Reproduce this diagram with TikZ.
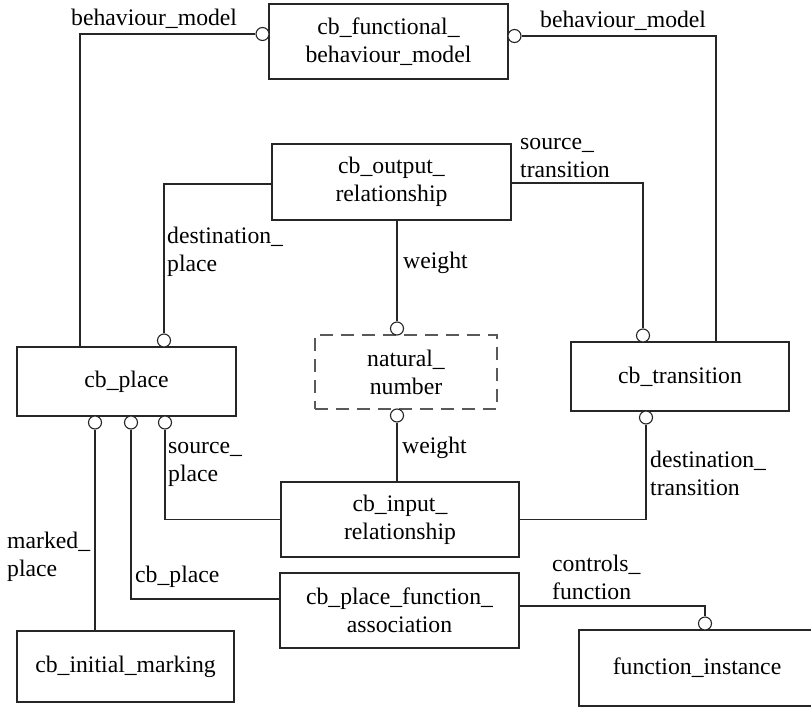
\documentclass[tikz,border=0pt]{standalone}
\usepackage{fontspec}
\setmainfont{Liberation Serif}
\begin{document}
\begin{tikzpicture}[x=1pt,y=-1pt,
  every node/.style={font=\fontsize{23.7}{28}\selectfont},
  entity/.style={draw=black!85, line width=1.1pt, fill=white, inner sep=0pt, align=center},
  typebox/.style={entity, dash pattern=on 13pt off 8pt, draw=black!65},
  link/.style={draw=black!85, line width=1.1pt},
  ring/.style={circle, draw=black!85, line width=1.1pt, fill=white, minimum size=13pt, inner sep=0pt},
  role/.style={anchor=base west, align=left, inner sep=0pt}
]
\useasboundingbox (0,0) rectangle (811,707);
\clip (0,0) rectangle (811,707);

% entities
\node[entity, minimum width=239pt, minimum height=75pt] (fbm) at (388.5,41.5) {cb\_functional\_\\behaviour\_model};
\node[entity, minimum width=239pt, minimum height=76pt] (outrel) at (391.5,182) {cb\_output\_\\relationship};
\node[entity, minimum width=219pt, minimum height=69pt] (place) at (126.5,381.5) {cb\_place};
\node[typebox, minimum width=182pt, minimum height=74pt] (natnum) at (406,372) {natural\_\\number};
\node[entity, minimum width=218pt, minimum height=69pt] (trans) at (680,376.5) {cb\_transition};
\node[entity, minimum width=238pt, minimum height=75pt] (inrel) at (400,519.5) {cb\_input\_\\relationship};
\node[entity, minimum width=239pt, minimum height=75pt] (pfa) at (399.5,610.5) {cb\_place\_function\_\\association};
\node[entity, minimum width=217pt, minimum height=71pt] (initmark) at (125.5,666.5) {cb\_initial\_marking};
\node[entity, minimum width=236pt, minimum height=76pt] (funcinst) at (697,668) {function\_instance};

% reference end markers
\node[ring] (r1) at (262.5,34) {};
\node[ring] (r2) at (514.5,36) {};
\node[ring] (r3) at (164,340.5) {};
\node[ring] (r4) at (643,335.5) {};
\node[ring] (r5) at (397,328.5) {};
\node[ring] (r6) at (397,415.5) {};
\node[ring] (r7) at (95,422.5) {};
\node[ring] (r8) at (131,422.5) {};
\node[ring] (r9) at (165,422.5) {};
\node[ring] (r10) at (646,417.5) {};
\node[ring] (r11) at (705,623.5) {};

% relationships
\draw[link] (r1.west) -| ([xshift=-46.5pt]place.north);
\draw[link] (r2.east) -| ([xshift=36pt]trans.north);
\draw[link] (r3.north) |- ([yshift=-2pt]outrel.west);
\draw[link] (r4.north) |- ([yshift=-1pt]outrel.east);
\draw[link] (r5.north) -- (r5.north |- outrel.south);
\draw[link] (r6.south) -- (r6.south |- inrel.north);
\draw[link] (r7.south) -- (r7.south |- initmark.north);
\draw[link] (r8.south) |- ([yshift=11.5pt]pfa.west);
\draw[link] (r9.south) |- (inrel.west);
\draw[link] (r10.south) |- (inrel.east);
\draw[link] ([yshift=4.5pt]pfa.east) -| (r11.north);

% role names (base anchor sits on the last line)
\node[role] (lbm1) at (71,25) {behaviour\_model};
\node[role] (lbm2) at (540,27) {behaviour\_model};
\node[role] (lst) at (520,177) {source\_\\transition};
\node[role] (ldp) at (167,271) {destination\_\\place};
\node[role] (lw1) at (403,268) {weight};
\node[role] (lw2) at (402,453) {weight};
\node[role] (lsp) at (168,481) {source\_\\place};
\node[role] (ldt) at (650,495) {destination\_\\transition};
\node[role] (lmp) at (7,576) {marked\_\\place};
\node[role] (lcp) at (135,582) {cb\_place};
\node[role] (lcf) at (552,599) {controls\_\\function};
\end{tikzpicture}
\end{document}
